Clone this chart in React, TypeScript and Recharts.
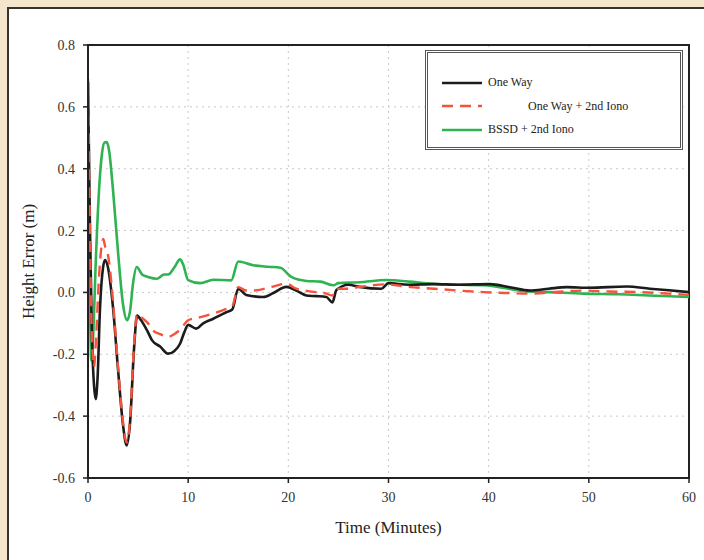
import { LineChart, Line, XAxis, YAxis, CartesianGrid, ReferenceArea, Label } from "recharts";

// minutes / height error (m)
const oneWayTime = [0, 0.2, 0.4, 0.6, 0.77, 0.95, 1.2, 1.5, 1.7, 2.0, 2.5, 3.0, 3.5, 3.86, 4.2, 4.6, 4.9, 5.3, 5.9, 6.4, 7.2, 8.0, 8.6, 9.2, 9.6, 10.0, 10.8, 11.5, 12.5, 13.8, 14.4, 15.0, 15.8, 17.5, 18.5, 19.8, 20.8, 21.8, 22.8, 23.8, 24.4, 24.8, 26, 27.1, 29.3, 30.0, 32, 34.5, 37, 40.1, 42.1, 44.1, 46, 47.8, 50, 53.8, 56.1, 58, 60];
const oneWayErr = [0.68, 0.2, -0.15, -0.3, -0.345, -0.28, -0.05, 0.08, 0.105, 0.08, -0.05, -0.25, -0.43, -0.495, -0.42, -0.18, -0.075, -0.09, -0.123, -0.155, -0.175, -0.198, -0.19, -0.165, -0.13, -0.105, -0.117, -0.1, -0.085, -0.064, -0.055, 0.012, -0.008, -0.015, -0.002, 0.018, 0.006, -0.01, -0.012, -0.015, -0.032, 0.008, 0.025, 0.018, 0.012, 0.03, 0.025, 0.027, 0.025, 0.027, 0.017, 0.006, 0.012, 0.017, 0.015, 0.019, 0.012, 0.007, 0.001];

const ionoTime = [0, 0.15, 0.35, 0.5, 0.6, 0.8, 1.1, 1.35, 1.53, 1.7, 1.87, 2.1, 2.5, 3.0, 3.5, 3.85, 4.2, 4.6, 4.9, 5.3, 6.0, 6.5, 7.2, 8.0, 8.6, 9.2, 10.0, 11.2, 12.5, 13.8, 14.4, 15.0, 15.8, 16.5, 18, 19.8, 20.8, 22, 23.8, 24.4, 24.8, 26, 27, 29.8, 32, 34.5, 37, 39.5, 42, 44.1, 47, 49.5, 52, 55, 58, 60];
const ionoErr = [0.69, 0.3, -0.1, -0.22, -0.24, -0.15, 0.05, 0.15, 0.173, 0.15, 0.14, 0.1, -0.03, -0.24, -0.42, -0.485, -0.41, -0.17, -0.07, -0.08, -0.1, -0.123, -0.135, -0.144, -0.135, -0.12, -0.09, -0.08, -0.068, -0.053, -0.045, 0.017, 0.006, 0.006, 0.015, 0.028, 0.012, 0.004, -0.004, -0.01, 0.012, 0.012, 0.017, 0.026, 0.018, 0.012, 0.006, 0.001, -0.002, -0.004, 0.002, 0.006, 0.003, 0.001, -0.004, -0.008];

const bssdTime = [0, 0.15, 0.33, 0.5, 0.8, 1.1, 1.4, 1.65, 1.87, 2.1, 2.5, 3.0, 3.5, 3.9, 4.2, 4.5, 4.86, 5.4, 6.0, 6.86, 7.6, 8.0, 8.6, 9.2, 9.5, 10.0, 11.2, 12.5, 14.3, 15.0, 16.5, 18, 19.2, 20.3, 21.8, 23.2, 24.5, 25, 27.1, 29.8, 32, 34.5, 37, 39.5, 42, 43.5, 46, 49.5, 53, 56, 60];
const bssdErr = [0.28, 0.05, -0.22, -0.15, 0.12, 0.33, 0.45, 0.485, 0.486, 0.46, 0.33, 0.13, -0.04, -0.09, -0.06, 0.03, 0.082, 0.058, 0.05, 0.044, 0.058, 0.058, 0.08, 0.107, 0.09, 0.04, 0.03, 0.041, 0.039, 0.1, 0.088, 0.083, 0.08, 0.05, 0.037, 0.035, 0.023, 0.03, 0.033, 0.04, 0.035, 0.028, 0.025, 0.023, 0.012, 0.004, 0.001, -0.004, -0.006, -0.01, -0.015];

const xTicks = [0, 10, 20, 30, 40, 50, 60];
const yTicks = [-0.6, -0.4, -0.2, 0, 0.2, 0.4, 0.6, 0.8];

const toRows = (t: number[], v: number[]) => t.map((x, i) => ({ t: x, h: v[i] }));
const oneWay = toRows(oneWayTime, oneWayErr);
const oneWayIono = toRows(ionoTime, ionoErr);
const bssdIono = toRows(bssdTime, bssdErr);

const serif = "'Liberation Serif', 'Times New Roman', serif";

const legendItems = [
  { label: "One Way", color: "#1c1c1c", dash: undefined, pad: 6 },
  { label: "One Way + 2nd Iono", color: "#f4533c", dash: "11 7", pad: 46 },
  { label: "BSSD + 2nd Iono", color: "#2fb352", dash: undefined, pad: 6 },
];

function LegendBox() {
  return (
    <div
      style={{
        position: "absolute",
        left: 425,
        top: 50,
        width: 258,
        height: 100,
        border: "3px double #555",
        background: "#fff",
        boxSizing: "border-box",
        paddingTop: 18,
        paddingLeft: 14,
        fontFamily: serif,
        fontSize: 12,
        color: "#222",
      }}
    >
      {legendItems.map((it) => (
        <div key={it.label} style={{ display: "flex", alignItems: "center", height: 23.5 }}>
          <svg width={40} height={6}>
            <line x1={0} y1={3} x2={40} y2={3} stroke={it.color} strokeWidth={2.5} strokeDasharray={it.dash} />
          </svg>
          <span style={{ marginLeft: it.pad }}>{it.label}</span>
        </div>
      ))}
    </div>
  );
}

export default function App() {
  return (
    <div style={{ position: "absolute", left: 0, top: 0, width: 704, height: 560, background: "#f3e6cc", overflow: "hidden" }}>
      <div
        style={{
          position: "absolute",
          left: 7,
          top: 7,
          width: 700,
          height: 560,
          background: "#fff",
          borderLeft: "2px solid #333",
          borderTop: "2px solid #333",
        }}
      />
      <div style={{ position: "absolute", left: 0, top: 0 }}>
        <LineChart width={704} height={560} data={oneWay} margin={{ top: 45, right: 15, bottom: 22, left: 8 }}>
          <CartesianGrid stroke="#c9c9c9" strokeDasharray="2 4" />
          <XAxis
            type="number"
            dataKey="t"
            domain={[0, 60]}
            ticks={xTicks}
            height={60}
            tick={{ fill: "#333", fontSize: 14, fontFamily: serif }}
            tickLine={{ stroke: "#222", strokeWidth: 1.5 }}
            axisLine={{ stroke: "#222", strokeWidth: 2 }}
            tickSize={5}
            tickMargin={9}
            allowDataOverflow
          >
            <Label value="Time (Minutes)" position="insideBottom" offset={5} style={{ fill: "#222", fontSize: 17, fontFamily: serif }} />
          </XAxis>
          <YAxis
            type="number"
            domain={[-0.6, 0.8]}
            ticks={yTicks}
            width={80}
            tickFormatter={(v: number) => v.toFixed(1)}
            tick={{ fill: "#333", fontSize: 14, fontFamily: serif }}
            tickLine={{ stroke: "#222", strokeWidth: 1.5 }}
            axisLine={{ stroke: "#222", strokeWidth: 2 }}
            tickSize={5}
            tickMargin={8}
            allowDataOverflow
          >
            <Label value="Height Error (m)" angle={-90} position="insideLeft" offset={20} style={{ textAnchor: "middle", fill: "#222", fontSize: 17, fontFamily: serif }} />
          </YAxis>
          <ReferenceArea x1={0} x2={60} y1={-0.6} y2={0.8} fill="none" stroke="#222" strokeWidth={2} ifOverflow="visible" />
          <Line data={bssdIono} dataKey="h" type="monotone" stroke="#2fb352" strokeWidth={2.6} dot={false} isAnimationActive={false} />
          <Line data={oneWay} dataKey="h" type="monotone" stroke="#1c1c1c" strokeWidth={2.6} dot={false} isAnimationActive={false} />
          <Line data={oneWayIono} dataKey="h" type="monotone" stroke="#f4533c" strokeWidth={2.4} strokeDasharray="11 7" dot={false} isAnimationActive={false} />
        </LineChart>
      </div>
      <LegendBox />
    </div>
  );
}
